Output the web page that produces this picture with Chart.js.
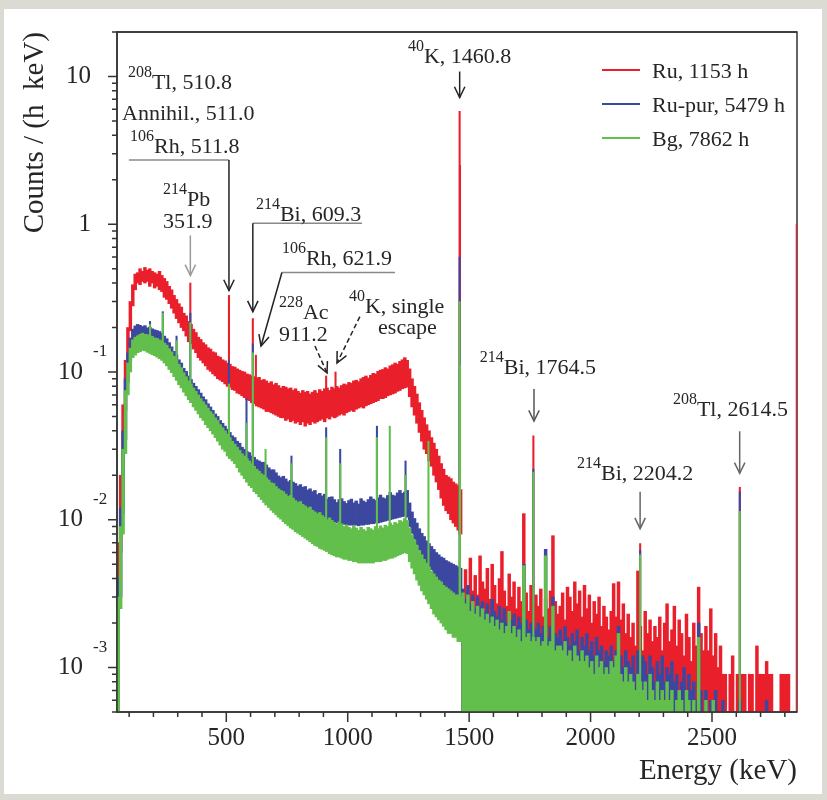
<!DOCTYPE html>
<html>
<head>
<meta charset="utf-8">
<title>Spectrum</title>
<script src="https://cdn.jsdelivr.net/npm/chart.js@4.4.1/dist/chart.umd.min.js"></script>
<style>
  html, body { margin: 0; padding: 0; background: #dcdbd3; }
  #box { position: absolute; left: 0; top: 0; width: 827px; height: 800px; }
</style>
</head>
<body>
<div id="box"><canvas id="myChart" width="827" height="800"></canvas></div>
<script>
// low energy part, 10 keV bins (centre in keV), band [low, high] per bin
const denseE = [55, 65, 75, 85, 95, 105, 115, 125, 135, 145,
  155, 165, 175, 185, 195, 205, 215, 225, 235, 245,
  255, 265, 275, 285, 295, 305, 315, 325, 335, 345,
  355, 365, 375, 385, 395, 405, 415, 425, 435, 445,
  455, 465, 475, 485, 495, 505, 515, 525, 535, 545,
  555, 565, 575, 585, 595, 605, 615, 625, 635, 645,
  655, 665, 675, 685, 695, 705, 715, 725, 735, 745,
  755, 765, 775, 785, 795, 805, 815, 825, 835, 845,
  855, 865, 875, 885, 895, 905, 915, 925, 935, 945,
  955, 965, 975, 985, 995, 1005, 1015, 1025, 1035, 1045,
  1055, 1065, 1075, 1085, 1095, 1105, 1115, 1125, 1135, 1145,
  1155, 1165, 1175, 1185, 1195, 1205, 1215, 1225, 1235, 1245,
  1255, 1265, 1275, 1285, 1295, 1305, 1315, 1325, 1335, 1345,
  1355, 1365, 1375, 1385, 1395, 1405, 1415, 1425, 1435, 1445,
  1455, 1465];

const ruLo = [0.0005, 0.006, 0.02, 0.055, 0.11, 0.19, 0.28, 0.36, 0.40, 0.39,
  0.41, 0.40, 0.41, 0.38, 0.40, 0.37, 0.38, 0.36, 0.35, 0.32,
  0.31, 0.29, 0.27, 0.25, 0.23, 0.215, 0.20, 0.19, 0.175, 0.16,
  0.155, 0.143, 0.135, 0.125, 0.12, 0.115, 0.11, 0.104, 0.101, 0.097,
  0.094, 0.09, 0.088, 0.086, 0.083, 0.080, 0.079, 0.076, 0.075, 0.072,
  0.071, 0.069, 0.067, 0.065, 0.064, 0.062, 0.061, 0.059, 0.058, 0.057,
  0.056, 0.054, 0.054, 0.053, 0.052, 0.051, 0.050, 0.049, 0.049, 0.047,
  0.048, 0.046, 0.047, 0.045, 0.046, 0.044, 0.046, 0.043, 0.045, 0.044,
  0.046, 0.045, 0.046, 0.047, 0.048, 0.046, 0.049, 0.048, 0.050, 0.049,
  0.050, 0.051, 0.052, 0.051, 0.053, 0.054, 0.055, 0.054, 0.056, 0.057,
  0.058, 0.057, 0.059, 0.060, 0.061, 0.062, 0.063, 0.064, 0.066, 0.066,
  0.067, 0.069, 0.070, 0.071, 0.072, 0.074, 0.075, 0.077, 0.078, 0.079,
  0.068, 0.058, 0.051, 0.045, 0.039, 0.034, 0.030, 0.028, 0.025, 0.023,
  0.020, 0.018, 0.016, 0.014, 0.0125, 0.0115, 0.011, 0.010, 0.0095, 0.009,
  0.0085, 0.008];
const ruHi = [0.007, 0.02, 0.06, 0.12, 0.20, 0.30, 0.39, 0.46, 0.47, 0.50,
  0.48, 0.51, 0.49, 0.50, 0.48, 0.47, 0.46, 0.48, 0.45, 0.43,
  0.41, 0.38, 0.36, 0.33, 0.31, 0.29, 0.275, 0.25, 0.24, 0.22,
  0.21, 0.195, 0.185, 0.172, 0.166, 0.158, 0.153, 0.146, 0.143, 0.137,
  0.135, 0.128, 0.126, 0.121, 0.119, 0.115, 0.113, 0.109, 0.108, 0.105,
  0.103, 0.101, 0.10, 0.097, 0.096, 0.094, 0.093, 0.091, 0.092, 0.088,
  0.089, 0.087, 0.084, 0.086, 0.082, 0.084, 0.081, 0.078, 0.080, 0.079,
  0.077, 0.078, 0.075, 0.077, 0.074, 0.072, 0.075, 0.073, 0.074, 0.071,
  0.073, 0.075, 0.072, 0.076, 0.074, 0.077, 0.078, 0.075, 0.079, 0.077,
  0.080, 0.078, 0.081, 0.083, 0.082, 0.085, 0.084, 0.087, 0.088, 0.086,
  0.090, 0.092, 0.094, 0.091, 0.095, 0.098, 0.097, 0.101, 0.103, 0.104,
  0.107, 0.105, 0.110, 0.112, 0.115, 0.113, 0.118, 0.121, 0.125, 0.12,
  0.105, 0.09, 0.080, 0.071, 0.062, 0.055, 0.049, 0.044, 0.040, 0.036,
  0.033, 0.030, 0.027, 0.024, 0.022, 0.020, 0.0195, 0.019, 0.018, 0.0175,
  0.017, 0.016];

const purLo = [0.0005, 0.003, 0.011, 0.035, 0.085, 0.12, 0.15, 0.16, 0.165, 0.162,
  0.16, 0.158, 0.156, 0.153, 0.151, 0.148, 0.146, 0.143, 0.138, 0.13,
  0.124, 0.116, 0.109, 0.101, 0.096, 0.089, 0.085, 0.079, 0.075, 0.07,
  0.066, 0.062, 0.059, 0.056, 0.053, 0.05, 0.048, 0.045, 0.043, 0.041,
  0.039, 0.037, 0.035, 0.033, 0.031, 0.030, 0.029, 0.027, 0.026, 0.025,
  0.024, 0.023, 0.022, 0.021, 0.020, 0.0195, 0.019, 0.0185, 0.018, 0.0175,
  0.017, 0.0168, 0.016, 0.0157, 0.0152, 0.0149, 0.0146, 0.0143, 0.014, 0.0137,
  0.0134, 0.0131, 0.0129, 0.0126, 0.0123, 0.0121, 0.0118, 0.0116, 0.0113, 0.0111,
  0.0109, 0.0107, 0.0106, 0.0104, 0.0103, 0.0101, 0.010, 0.0098, 0.0097, 0.0096,
  0.0095, 0.0094, 0.0094, 0.0093, 0.0093, 0.0092, 0.0092, 0.0092, 0.0092, 0.0091,
  0.0092, 0.0092, 0.0093, 0.0093, 0.0094, 0.0094, 0.0095, 0.0095, 0.0096, 0.0097,
  0.0098, 0.0099, 0.010, 0.0101, 0.0102, 0.0103, 0.0104, 0.0105, 0.0106, 0.0104,
  0.009, 0.0081, 0.0074, 0.0068, 0.0062, 0.0058, 0.0054, 0.0051, 0.0048, 0.0046,
  0.0043, 0.0041, 0.0039, 0.0037, 0.0035, 0.0034, 0.0033, 0.0032, 0.0031, 0.0030,
  0.0029, 0.0028];
const purHi = [0.004, 0.012, 0.04, 0.09, 0.135, 0.17, 0.195, 0.205, 0.21, 0.207,
  0.203, 0.206, 0.199, 0.201, 0.196, 0.193, 0.191, 0.188, 0.183, 0.175,
  0.168, 0.158, 0.148, 0.138, 0.131, 0.121, 0.115, 0.106, 0.101, 0.094,
  0.089, 0.084, 0.08, 0.076, 0.072, 0.068, 0.065, 0.061, 0.058, 0.055,
  0.052, 0.05, 0.047, 0.045, 0.043, 0.041, 0.039, 0.037, 0.036, 0.034,
  0.033, 0.031, 0.030, 0.029, 0.0285, 0.027, 0.0265, 0.0255, 0.025, 0.0245,
  0.0245, 0.0235, 0.0225, 0.0218, 0.0218, 0.0208, 0.0198, 0.0193, 0.0197, 0.0189,
  0.0181, 0.0185, 0.018, 0.0176, 0.0169, 0.0173, 0.0166, 0.0168, 0.0159, 0.0162,
  0.0155, 0.0158, 0.0148, 0.0151, 0.0145, 0.0149, 0.0138, 0.0142, 0.0143, 0.0137,
  0.0131, 0.0137, 0.0139, 0.0133, 0.0129, 0.0135, 0.0138, 0.013, 0.0134, 0.0128,
  0.0139, 0.0134, 0.0131, 0.0137, 0.0143, 0.0138, 0.0135, 0.0141, 0.0147, 0.0141,
  0.0139, 0.0146, 0.0153, 0.0147, 0.0145, 0.0152, 0.0158, 0.0151, 0.0154, 0.0158,
  0.013, 0.0113, 0.0102, 0.0095, 0.0087, 0.0081, 0.0077, 0.0072, 0.0069, 0.0066,
  0.0063, 0.006, 0.0058, 0.0056, 0.0055, 0.0053, 0.0052, 0.0051, 0.005, 0.0049,
  0.0048, 0.0047];

const bgLo = [0.0005, 0.0025, 0.008, 0.028, 0.07, 0.10, 0.125, 0.13, 0.135, 0.137,
  0.14, 0.139, 0.136, 0.134, 0.131, 0.129, 0.126, 0.123, 0.12, 0.115,
  0.11, 0.104, 0.099, 0.093, 0.088, 0.082, 0.078, 0.073, 0.069, 0.065,
  0.062, 0.058, 0.055, 0.052, 0.049, 0.047, 0.044, 0.042, 0.04, 0.038,
  0.036, 0.034, 0.032, 0.030, 0.029, 0.027, 0.026, 0.025, 0.024, 0.0225,
  0.021, 0.020, 0.019, 0.018, 0.017, 0.0165, 0.0155, 0.015, 0.0143, 0.0137,
  0.0131, 0.0126, 0.0121, 0.0116, 0.0112, 0.0108, 0.0104, 0.0101, 0.0097, 0.0094,
  0.0091, 0.0088, 0.0086, 0.0083, 0.0081, 0.0079, 0.0077, 0.0075, 0.0073, 0.0071,
  0.0069, 0.0067, 0.0066, 0.0064, 0.0063, 0.0062, 0.0061, 0.0059, 0.0058, 0.0057,
  0.0056, 0.0056, 0.0055, 0.0054, 0.0054, 0.0053, 0.0053, 0.0052, 0.0052, 0.0051,
  0.0051, 0.0051, 0.0051, 0.0051, 0.0051, 0.0051, 0.0052, 0.0052, 0.0052, 0.0053,
  0.0053, 0.0054, 0.0055, 0.0055, 0.0056, 0.0057, 0.0058, 0.0059, 0.006, 0.0059,
  0.0052, 0.0047, 0.0043, 0.0039, 0.0036, 0.0033, 0.0031, 0.0029, 0.0027, 0.0025,
  0.0023, 0.0022, 0.0021, 0.002, 0.0019, 0.0018, 0.0017, 0.0017, 0.0016, 0.0016,
  0.0015, 0.0015];
const bgHi = [0.003, 0.009, 0.03, 0.075, 0.115, 0.145, 0.165, 0.172, 0.176, 0.18,
  0.183, 0.18, 0.179, 0.176, 0.174, 0.17, 0.169, 0.165, 0.162, 0.157,
  0.152, 0.144, 0.137, 0.128, 0.121, 0.113, 0.107, 0.099, 0.093, 0.087,
  0.083, 0.078, 0.074, 0.07, 0.066, 0.063, 0.06, 0.057, 0.054, 0.052,
  0.049, 0.047, 0.044, 0.042, 0.040, 0.038, 0.036, 0.034, 0.0325, 0.031,
  0.0295, 0.028, 0.027, 0.026, 0.025, 0.024, 0.023, 0.022, 0.0213, 0.0205,
  0.020, 0.0192, 0.0186, 0.0178, 0.0176, 0.0168, 0.0162, 0.0158, 0.0155, 0.0149,
  0.0144, 0.0146, 0.014, 0.0135, 0.0131, 0.0133, 0.0127, 0.0124, 0.012, 0.0122,
  0.0116, 0.0113, 0.011, 0.0112, 0.0107, 0.0104, 0.010, 0.0103, 0.0099, 0.0096,
  0.0093, 0.0097, 0.0094, 0.009, 0.0092, 0.0089, 0.0087, 0.0091, 0.0088, 0.0085,
  0.0089, 0.0086, 0.0084, 0.0089, 0.0087, 0.0085, 0.009, 0.0087, 0.0091, 0.0088,
  0.0092, 0.009, 0.0095, 0.0092, 0.0096, 0.0094, 0.0099, 0.0097, 0.0102, 0.0099,
  0.0088, 0.0079, 0.0073, 0.0067, 0.0062, 0.0058, 0.0054, 0.0051, 0.0048, 0.0045,
  0.0043, 0.0041, 0.0039, 0.0038, 0.0036, 0.0035, 0.0034, 0.0033, 0.0032, 0.0031,
  0.0031, 0.003];

// high energy tail, 10 keV bins, top of each bin (0 = empty)
const tailE = [1475, 1485, 1495, 1505, 1515, 1525, 1535, 1545, 1555, 1565,
  1575, 1585, 1595, 1605, 1615, 1625, 1635, 1645, 1655, 1665,
  1675, 1685, 1695, 1705, 1715, 1725, 1735, 1745, 1755, 1765,
  1775, 1785, 1795, 1805, 1815, 1825, 1835, 1845, 1855, 1865,
  1875, 1885, 1895, 1905, 1915, 1925, 1935, 1945, 1955, 1965,
  1975, 1985, 1995, 2005, 2015, 2025, 2035, 2045, 2055, 2065,
  2075, 2085, 2095, 2105, 2115, 2125, 2135, 2145, 2155, 2165,
  2175, 2185, 2195, 2205, 2215, 2225, 2235, 2245, 2255, 2265,
  2275, 2285, 2295, 2305, 2315, 2325, 2335, 2345, 2355, 2365,
  2375, 2385, 2395, 2405, 2415, 2425, 2435, 2445, 2455, 2465,
  2475, 2485, 2495, 2505, 2515, 2525, 2535, 2545, 2555, 2565,
  2575, 2585, 2595, 2605, 2615, 2625, 2635, 2645, 2655, 2665,
  2675, 2685, 2695, 2705, 2715, 2725, 2735, 2745, 2755, 2765,
  2775, 2785, 2795, 2805, 2815, 2825, 2835, 2845];

const ruTail = [0.0030, 0.0046, 0.0036, 0.0055, 0.0033, 0.0042, 0.0031, 0.0057, 0.0038, 0.0034,
  0.0047, 0.0029, 0.0050, 0.0036, 0.0027, 0.0040, 0.0061, 0.0033, 0.0026, 0.0043,
  0.0030, 0.0038, 0.0025, 0.0035, 0.0028, 0.0110, 0.0032, 0.0024, 0.0036, 0.0027,
  0.0031, 0.0026, 0.0034, 0.0022, 0.0029, 0.0025, 0.0033, 0.0078, 0.0028, 0.0023,
  0.0026, 0.0032, 0.0021, 0.0035, 0.0030, 0.0024, 0.0038, 0.0027, 0.0033, 0.0022,
  0.0036, 0.0025, 0.0031, 0.0020, 0.0028, 0.0023, 0.0030, 0.0019, 0.0026, 0.0022,
  0.0018, 0.0024, 0.0037, 0.0022, 0.0038, 0.0021, 0.0027, 0.0017, 0.0023, 0.0016,
  0.0020, 0.0014, 0.0045, 0.0019, 0.0013, 0.0024, 0.0017, 0.0021, 0.0015, 0.0019,
  0.0016, 0.0022, 0.0013, 0.0020, 0.0027, 0.0015, 0.0018, 0.0026, 0.0014, 0.0021,
  0.0017, 0.0012, 0.0023, 0.0016, 0.0011, 0.0020, 0.0014, 0.0035, 0.0017, 0.0013,
  0.0019, 0.0013, 0.0025, 0.0012, 0.0017, 0.0010, 0.0014, 0.0009, 0.0009, 0,
  0.0009, 0.0012, 0, 0.0009, 0.0009, 0.0009, 0.0009, 0, 0.0009, 0.0009,
  0, 0.0014, 0.0009, 0.0009, 0.0009, 0.0011, 0.0009, 0.0009, 0, 0,
  0, 0.0009, 0.0009, 0.0009, 0.0009, 0, 0, 0];
const purTail = [0.0034, 0.0029, 0.0036, 0.0027, 0.0031, 0.0025, 0.0030, 0.0026, 0.0028, 0.0024,
  0.0027, 0.0023, 0.0029, 0.0024, 0.0022, 0.0026, 0.0021, 0.0025, 0.0020, 0.0024,
  0.0021, 0.0023, 0.0019, 0.0022, 0.0020, 0.0050, 0.0021, 0.0018, 0.0020, 0.0019,
  0.0018, 0.0020, 0.0017, 0.0019, 0.0063, 0.0016, 0.0019, 0.0030, 0.0017, 0.0016,
  0.0018, 0.0015, 0.0019, 0.0016, 0.0014, 0.0017, 0.0015, 0.0018, 0.0013, 0.0016,
  0.0014, 0.0017, 0.0013, 0.0015, 0.0012, 0.0016, 0.0013, 0.0014, 0.0011, 0.0013,
  0.0012, 0.0014, 0.0011, 0.0013, 0.0019, 0.0012, 0.0010, 0.0013, 0.0011, 0.0010,
  0.0012, 0.0009, 0.0013, 0.0010, 0.0012, 0.0011, 0.0009, 0.0012, 0.0010, 0.0008,
  0.0011, 0.0009, 0.0012, 0.0008, 0.0010, 0.0009, 0.0011, 0.0008, 0.0009, 0.0007,
  0.0008, 0.0010, 0.0007, 0.0009, 0.0007, 0.0008, 0.0006, 0.0020, 0.0007, 0,
  0.0007, 0, 0.0006, 0, 0.0007, 0, 0, 0.0006, 0, 0,
  0, 0, 0, 0, 0.0006, 0, 0, 0, 0, 0,
  0, 0, 0, 0, 0, 0.0006, 0, 0, 0, 0,
  0, 0, 0, 0, 0, 0, 0, 0];
const bgTail = [0.0032, 0.0027, 0.0031, 0.0024, 0.0028, 0.0023, 0.0026, 0.0022, 0.0025, 0.0021,
  0.0023, 0.0020, 0.0022, 0.0019, 0.0021, 0.0018, 0.0020, 0.0017, 0.0019, 0.0024,
  0.0017, 0.0019, 0.0016, 0.0018, 0.0015, 0.0049, 0.0016, 0.0017, 0.0015, 0.0016,
  0.0015, 0.0016, 0.0014, 0.0015, 0.0057, 0.0014, 0.0015, 0.0026, 0.0013, 0.0014,
  0.0014, 0.0013, 0.0015, 0.0012, 0.0013, 0.0011, 0.0014, 0.0012, 0.0011, 0.0013,
  0.0011, 0.0012, 0.0010, 0.0011, 0.0009, 0.0012, 0.0010, 0.0011, 0.0009, 0.0010,
  0.0009, 0.0011, 0.0010, 0.0012, 0.0017, 0.0009, 0.0008, 0.0010, 0.0008, 0.0009,
  0.0008, 0.0007, 0.0009, 0.0008, 0.0007, 0.0008, 0.0006, 0.0009, 0.0007, 0.0006,
  0.0008, 0.0006, 0.0007, 0.0006, 0.0008, 0.0006, 0.0007, 0, 0.0006, 0.0007,
  0.0006, 0, 0.0007, 0.0006, 0, 0.0006, 0, 0.0016, 0, 0,
  0.0006, 0, 0, 0.0006, 0, 0, 0, 0, 0, 0,
  0, 0, 0, 0, 0, 0, 0, 0, 0, 0,
  0, 0, 0, 0, 0, 0, 0, 0, 0, 0,
  0, 0, 0, 0, 0, 0, 0, 0];

// gamma lines (keV) and their heights
const ruLineE = [351.9, 511.0, 609.3, 621.9, 911.2, 949.8, 1460.8, 1462.3, 1764.5, 2204.2, 2614.5, 2849];
const ruLineV = [0.40, 0.33, 0.23, 0.13, 0.094, 0.10, 5.8, 2.5, 0.037, 0.0069, 0.0166, 1.0];
const purLineE = [186, 238.6, 295.2, 351.9, 511.0, 583.2, 609.3, 768.4, 911.2, 969.0, 1120.3, 1238.1, 1460.8, 1462.3, 1764.5, 2204.2, 2614.5];
const purLineV = [0.22, 0.256, 0.175, 0.25, 0.12, 0.066, 0.155, 0.027, 0.042, 0.030, 0.043, 0.025, 0.60, 0.146, 0.022, 0.0062, 0.0155];
const bgLineE = [186, 238.6, 295.2, 351.9, 511.0, 583.2, 609.3, 661.7, 768.4, 911.2, 969.0, 1120.3, 1173.2, 1238.1, 1332.5, 1460.8, 1462.3, 1764.5, 2204.2, 2614.5];
const bgLineV = [0.21, 0.25, 0.163, 0.216, 0.083, 0.045, 0.135, 0.030, 0.024, 0.036, 0.024, 0.036, 0.043, 0.020, 0.034, 0.30, 0.11, 0.021, 0.0058, 0.0114];

const seriesNames = ['Ru, 1153 h', 'Ru-pur, 5479 h', 'Bg, 7862 h'];
const xLabelTicks = [500, 1000, 1500, 2000, 2500];
const yDecades = [-3, -2, -1, 0, 1];

const E_MIN = 50, E_MAX = 2850, Y_MIN = 5e-4, Y_MAX = 20, TAIL_FROM = 1470;
const COL = { ru: '#e9202b', pur: '#3c489f', bg: '#62bf4b' };
const FONT = '"Liberation Serif", "Times New Roman", serif';
const INK = '#262626';

// text labels, anchored in data coordinates (keV, counts)
const notes = [
  { e: 95, v: 8.17, sup: '208', txt: 'Tl, 510.8' },
  { e: 71, v: 5.09, sup: '', txt: 'Annihil., 511.0' },
  { e: 104, v: 3.04, sup: '106', txt: 'Rh, 511.8' },
  { e: 239, v: 1.32, sup: '214', txt: 'Pb' },
  { e: 239, v: 0.94, sup: '', txt: '351.9' },
  { e: 622, v: 1.06, sup: '214', txt: 'Bi, 609.3' },
  { e: 729, v: 0.526, sup: '106', txt: 'Rh, 621.9' },
  { e: 717, v: 0.23, sup: '228', txt: 'Ac' },
  { e: 717, v: 0.163, sup: '', txt: '911.2' },
  { e: 1005, v: 0.252, sup: '40', txt: 'K, single' },
  { e: 1125, v: 0.182, sup: '', txt: 'escape' },
  { e: 1248, v: 12.4, sup: '40', txt: 'K, 1460.8' },
  { e: 1544, v: 0.0968, sup: '214', txt: 'Bi, 1764.5' },
  { e: 1944, v: 0.0187, sup: '214', txt: 'Bi, 2204.2' },
  { e: 2339, v: 0.0502, sup: '208', txt: 'Tl, 2614.5' }
];
const leaders = [
  [[99, 2.72], [511, 2.72]],
  [[609.3, 1.016], [1059, 1.016]],
  [[729, 0.471], [1195, 0.471]]
];
const arrows = [
  { from: [511, 2.72], to: [511, 0.356], color: '#222' },
  { from: [609.3, 1.016], to: [609.3, 0.256], color: '#222' },
  { from: [729, 0.471], to: [643, 0.150], color: '#222' },
  { from: [352, 0.84], to: [352, 0.45], color: '#9a9a9a' },
  { from: [865, 0.150], to: [915, 0.0984], color: '#222', dash: true },
  { from: [1050, 0.237], to: [956, 0.115], color: '#222', dash: true },
  { from: [1461, 10.8], to: [1461, 7.2], color: '#222' },
  { from: [1767, 0.0766], to: [1767, 0.0465], color: '#555' },
  { from: [2204, 0.0155], to: [2204, 0.0087], color: '#666' },
  { from: [2614, 0.0397], to: [2614, 0.0206], color: '#666' }
];

function floorOf(e, lo) {
  if (e >= TAIL_FROM) return Y_MIN;
  let k = 0;
  for (let i = 0; i < denseE.length; i++) {
    if (Math.abs(denseE[i] - e) < Math.abs(denseE[k] - e)) k = i;
  }
  return lo[k];
}

function series(label, color, order, lo, hi, tail, lineE, lineV) {
  const base = { label, order, backgroundColor: color, borderWidth: 0, grouped: false, barThickness: 1 };
  return [
    Object.assign({}, base, { binW: 10, data: denseE.map((e, i) => ({ x: e, y: [lo[i], hi[i]] })) }),
    Object.assign({}, base, { binW: 10, data: tailE.map((e, i) => ({ x: e, y: tail[i] > 0 ? [Y_MIN, tail[i]] : null })) }),
    Object.assign({}, base, { data: lineE.map((e, i) => ({ x: e, y: [floorOf(e, lo), lineV[i]] })) })
  ];
}

function arrowTo(c, x1, y1, x2, y2, color, dashed) {
  c.save();
  c.strokeStyle = color;
  c.lineWidth = 1.5;
  if (dashed) c.setLineDash([5, 3]);
  c.beginPath(); c.moveTo(x1, y1); c.lineTo(x2, y2); c.stroke();
  c.setLineDash([]);
  const ang = Math.atan2(y2 - y1, x2 - x1), L = 12, s = 0.45;
  c.beginPath();
  c.moveTo(x2 - L * Math.cos(ang - s), y2 - L * Math.sin(ang - s));
  c.lineTo(x2, y2);
  c.lineTo(x2 - L * Math.cos(ang + s), y2 - L * Math.sin(ang + s));
  c.stroke();
  c.restore();
}

const decor = {
  id: 'decor',
  beforeDraw(chart) {
    const c = chart.ctx;
    c.save();
    c.fillStyle = '#dcdbd3';
    c.fillRect(0, 0, chart.width, chart.height);
    c.fillStyle = '#ffffff';
    c.fillRect(4, 9, chart.width - 9, chart.height - 15);
    c.restore();
  },
  beforeDatasetsDraw(chart) {
    const { ctx: c, chartArea: a } = chart;
    c.save();
    c.strokeStyle = '#333';
    c.lineWidth = 1.5;
    c.strokeRect(a.left, a.top, a.right - a.left, a.bottom - a.top);
    c.restore();
  },
  afterDatasetsDraw(chart) {
    const { ctx: c, chartArea: a } = chart;
    const xs = chart.scales.x, ys = chart.scales.y;
    const X = e => xs.getPixelForValue(e), Y = v => ys.getPixelForValue(v);
    c.save();
    c.strokeStyle = '#333';
    c.lineWidth = 1.5;
    c.beginPath();
    c.moveTo(a.right, a.top); c.lineTo(a.left, a.top);
    c.lineTo(a.left, a.bottom); c.lineTo(a.right, a.bottom);
    c.stroke();

    // x ticks (every 100 keV), outward
    c.beginPath();
    for (let e = 100; e <= 2800; e += 100) {
      const px = X(e), len = xLabelTicks.includes(e) ? 10 : 5;
      c.moveTo(px, a.bottom); c.lineTo(px, a.bottom + len);
    }
    // y ticks (log), outward
    for (let d = -4; d <= 1; d++) {
      for (let m = 1; m <= 9; m++) {
        const v = m * Math.pow(10, d);
        if (v < Y_MIN || v > Y_MAX) continue;
        const py = Y(v), len = m === 1 ? 9 : 5;
        c.moveTo(a.left - len, py); c.lineTo(a.left, py);
      }
    }
    c.stroke();

    c.fillStyle = INK;
    c.font = '25px ' + FONT;
    c.textAlign = 'center';
    c.textBaseline = 'middle';
    xLabelTicks.forEach(e => c.fillText(String(e), X(e), a.bottom + 26));

    yDecades.forEach(d => {
      const py = Y(Math.pow(10, d));
      c.font = '25px ' + FONT;
      c.textBaseline = 'middle';
      c.textAlign = 'right';
      if (d >= 0) {
        c.fillText(d === 0 ? '1' : '10', a.left - 26, py);
      } else {
        c.fillText('10', a.left - 34, py);
        c.font = '17px ' + FONT;
        c.textAlign = 'left';
        c.fillText(String(d), a.left - 24, py - 20);
      }
    });

    // axis titles
    c.font = '29px ' + FONT;
    c.textAlign = 'right';
    c.textBaseline = 'alphabetic';
    c.fillText('Energy (keV)', a.right, a.bottom + 67);
    c.save();
    c.translate(35, a.top);
    c.rotate(-Math.PI / 2);
    c.textBaseline = 'middle';
    c.fillText('Counts / (h  keV)', 0, 0);
    c.restore();

    // leaders and arrows
    c.strokeStyle = '#8a8a8a';
    c.lineWidth = 1.5;
    leaders.forEach(l => {
      c.beginPath();
      c.moveTo(X(l[0][0]), Y(l[0][1]));
      c.lineTo(X(l[1][0]), Y(l[1][1]));
      c.stroke();
    });
    arrows.forEach(r => arrowTo(c, X(r.from[0]), Y(r.from[1]), X(r.to[0]), Y(r.to[1]), r.color, r.dash));

    // labels with superscript mass numbers
    c.fillStyle = INK;
    c.textAlign = 'left';
    c.textBaseline = 'alphabetic';
    notes.forEach(n => {
      let x = X(n.e);
      const y = Y(n.v);
      if (n.sup) {
        c.font = '16px ' + FONT;
        c.fillText(n.sup, x, y - 12);
        x += c.measureText(n.sup).width;
      }
      c.font = '22px ' + FONT;
      c.fillText(n.txt, x, y);
    });

    // legend
    const cols = [COL.ru, COL.pur, COL.bg];
    c.font = '22px ' + FONT;
    seriesNames.forEach((name, i) => {
      const ly = a.top + 38 + i * 34;
      c.strokeStyle = cols[i];
      c.lineWidth = 2;
      c.beginPath(); c.moveTo(a.right - 195, ly); c.lineTo(a.right - 157, ly); c.stroke();
      c.fillStyle = INK;
      c.fillText(name, a.right - 145, ly + 8);
    });
    c.restore();
  }
};

const datasets = [].concat(
  series(seriesNames[2], COL.bg, 1, bgLo, bgHi, bgTail, bgLineE, bgLineV),
  series(seriesNames[1], COL.pur, 2, purLo, purHi, purTail, purLineE, purLineV),
  series(seriesNames[0], COL.ru, 3, ruLo, ruHi, ruTail, ruLineE, ruLineV)
);

const config = {
  type: 'bar',
  data: { datasets },
  options: {
    responsive: false,
    animation: false,
    events: [],
    layout: { padding: { top: 32, right: 30, left: 0, bottom: 0 } },
    plugins: { legend: { display: false }, tooltip: { enabled: false } },
    scales: {
      x: {
        type: 'linear', min: E_MIN, max: E_MAX, offset: false,
        grid: { display: false }, border: { display: false }, ticks: { display: false },
        afterFit(s) { s.height = 88; }
      },
      y: {
        type: 'logarithmic', min: Y_MIN, max: Y_MAX,
        grid: { display: false }, border: { display: false }, ticks: { display: false },
        afterFit(s) { s.width = 117; }
      }
    }
  },
  plugins: [decor]
};

const myChart = new Chart(document.getElementById('myChart'), config);

// bar widths follow the bin widths on the energy axis
const xs = myChart.scales.x;
const pxPerKeV = (xs.getPixelForValue(E_MAX) - xs.getPixelForValue(E_MIN)) / (E_MAX - E_MIN);
myChart.data.datasets.forEach(d => {
  d.barThickness = d.binW ? d.binW * pxPerKeV + 0.4 : 1.4;
});
myChart.update('none');
</script>
</body>
</html>
